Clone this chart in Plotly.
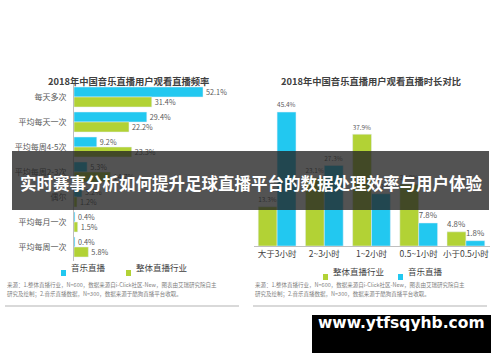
import plotly.graph_objects as go

# ---- data ----
freq_categories = ["每天多次", "平均每天一次", "平均每周4-5次", "平均每周2-3次", "偶尔", "平均每月一次", "平均每周一次"]
freq_music = [52.1, 29.4, 9.2, 5.3, 3.2, 0.4, 0.4]
freq_industry = [31.4, 22.2, 23.3, 14.7, 1.2, 1.5, 5.8]

dur_categories = ["大于3小时", "2~3小时", "1~2小时", "0.5~1小时", "小于0.5小时"]
dur_industry = [13.3, 23.1, 37.9, 20.9, 4.8]
dur_music = [45.4, 27.3, 17.7, 7.8, 1.8]

BLUE = "#22c8f0"
GREEN = "#b2d235"
TXT = "#595959"
FONT = "Noto Sans CJK SC"
W, H = 500, 362

def px(x):
    return x / W

def py(y):
    return 1 - y / H

fig = go.Figure()

# left: horizontal grouped bars
fig.add_trace(go.Bar(
    y=freq_categories, x=freq_music, orientation="h", marker_color=BLUE,
    text=[f"{v}%" for v in freq_music], textposition="outside", cliponaxis=False,
    textfont=dict(size=8, color=TXT, family=FONT), xaxis="x", yaxis="y", showlegend=False))
fig.add_trace(go.Bar(
    y=freq_categories, x=freq_industry, orientation="h", marker_color=GREEN,
    text=[f"{v}%" for v in freq_industry], textposition="outside", cliponaxis=False,
    textfont=dict(size=8, color=TXT, family=FONT), xaxis="x", yaxis="y", showlegend=False))

# right: vertical grouped bars
fig.add_trace(go.Bar(
    x=dur_categories, y=dur_industry, marker_color=GREEN,
    text=[f"{v}%" for v in dur_industry], textposition="outside", cliponaxis=False,
    textfont=dict(size=8, color=TXT, family=FONT), xaxis="x2", yaxis="y2", showlegend=False))
fig.add_trace(go.Bar(
    x=dur_categories, y=dur_music, marker_color=BLUE,
    text=[f"{v}%" for v in dur_music], textposition="outside", cliponaxis=False,
    textfont=dict(size=8, color=TXT, family=FONT), xaxis="x2", yaxis="y2", showlegend=False))

fig.update_layout(
    width=W, height=H, margin=dict(l=0, r=0, t=0, b=0),
    paper_bgcolor="white", plot_bgcolor="rgba(0,0,0,0)",
    barmode="group", font=dict(family=FONT, color=TXT),
    bargap=0.2, bargroupgap=0,
    xaxis=dict(domain=[px(74), px(74 + 60 * 2.476)], range=[0, 60], visible=False, fixedrange=True),
    yaxis=dict(domain=[py(261), py(83)], range=[6.56, -0.56], type="category",
               showgrid=False, zeroline=False, showline=True, linecolor="#bfbfbf", linewidth=1,
               ticks="", tickfont=dict(size=8, color=TXT, family=FONT), ticklabelstandoff=5),
    xaxis2=dict(domain=[px(253.5), px(489.5)], range=[-0.5, 4.5], type="category", anchor="y2",
                showgrid=False, zeroline=False, showline=True, linecolor="#bfbfbf", linewidth=1,
                ticks="", tickfont=dict(size=8.5, color="#404040", family=FONT)),
    yaxis2=dict(domain=[py(246), py(98.5)], range=[0, 50], anchor="x2", visible=False),
)

ann = []
shapes = []
# titles
ann.append(dict(x=px(128), y=py(72), text="<b>2018年中国音乐直播用户观看直播频率</b>", showarrow=False,
                xanchor="center", xref="paper", yref="paper", font=dict(size=9.3, color="#404040", family=FONT)))
ann.append(dict(x=px(371), y=py(72), text="<b>2018年中国音乐直播用户观看直播时长对比</b>", showarrow=False,
                xanchor="center", xref="paper", yref="paper", font=dict(size=9.3, color="#404040", family=FONT)))

# legends
def legend_item(xsq, y, color, label):
    shapes.append(dict(type="rect", xref="paper", yref="paper", x0=px(xsq), x1=px(xsq + 5),
                       y0=py(y + 3), y1=py(y - 3), fillcolor=color, line=dict(width=0)))
    ann.append(dict(x=px(xsq + 8), y=py(y + 1.5), text=label, showarrow=False, xanchor="left",
                    xref="paper", yref="paper", font=dict(size=8.5, color="#404040", family=FONT)))

legend_item(61, 273, BLUE, "音乐直播")
legend_item(126, 273, GREEN, "整体直播行业")
legend_item(323, 277, GREEN, "整体直播行业")
legend_item(398, 277, BLUE, "音乐直播")

# source notes
src1 = "来源：1.整体直播行业，N=600，数据来源自i-Click社区-New，图表由艾瑞研究院自主"
src2 = "研究及绘制；2.音乐直播数据，N=300，数据来源于酷狗直播平台收取。"
for x0 in (5, 253):
    ann.append(dict(x=px(x0), y=py(291), text=src1, showarrow=False, xanchor="left",
                    xref="paper", yref="paper", font=dict(size=5.5, color="#808080", family=FONT)))
    ann.append(dict(x=px(x0), y=py(300), text=src2, showarrow=False, xanchor="left",
                    xref="paper", yref="paper", font=dict(size=5.5, color="#808080", family=FONT)))
    shapes.append(dict(type="line", xref="paper", yref="paper", x0=px(x0), x1=px(x0 + 234),
                       y0=py(306), y1=py(306), line=dict(color="#d9d9d9", width=2)))

# dark overlay band
shapes.append(dict(type="rect", xref="paper", yref="paper", x0=px(12), x1=px(489), y0=py(210), y1=py(151),
                   fillcolor="rgba(35,35,35,0.78)", line=dict(width=0), layer="above"))
ann.append(dict(x=px(251), y=py(183), text="<b>实时赛事分析如何提升足球直播平台的数据处理效率与用户体验</b>",
                showarrow=False, xanchor="center", xref="paper", yref="paper",
                font=dict(size=16.5, color="white", family=FONT)))

# watermark box
shapes.append(dict(type="rect", xref="paper", yref="paper", x0=px(312), x1=px(491), y0=py(353), y1=py(315),
                   fillcolor="black", line=dict(width=0), layer="above"))
ann.append(dict(x=px(401), y=py(334), text="<b>www.ytfsqyhb.com</b>", showarrow=False,
                xanchor="center", xref="paper", yref="paper",
                font=dict(size=15.5, color="white", family="DejaVu Sans")))

fig.update_layout(annotations=ann, shapes=shapes)
fig.write_html("out.html", config={"displayModeBar": False},
               post_script="document.body.style.margin='0';")
